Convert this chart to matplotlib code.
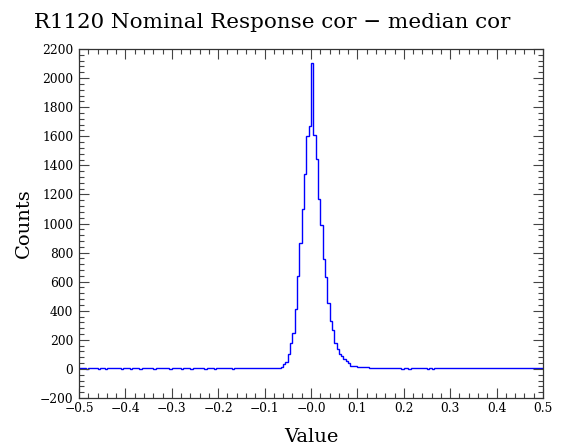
import numpy as np
import matplotlib.pyplot as plt

# histogram binning: 200 bins over [-0.5, 0.5)
bin_lo, bin_hi, n_bins = -0.5, 0.5, 200

# left tail, bins 0..81  (-0.5 .. -0.09)
left_tail = [3, 3, 3, 2, 3, 3, 7, 3, 2, 3, 3, 2, 3, 3, 7, 3, 7, 3, 2, 3,
             3, 3, 2, 3, 3, 3, 2, 3, 3, 3, 7, 3, 2, 3, 3, 3, 7, 3, 3, 2,
             7, 3, 7, 3, 0, 3, 3, 3, 0, 3, 6, 3, 3, 3, 0, 3, 3, 3, 0, 3,
             3, 3, 3, 3, 3, 3, 0, 3, 3, 3, 3, 3, 3, 3, 3, 3, 3, 3, 3, 3,
             3, 3]
# core, bins 82..128  (-0.09 .. 0.145)
core = [3, 7, 8, 3, 9, 16, 32, 45, 105, 177, 245, 415, 639, 864, 1100, 1340,
        1599, 1672, 2101, 1608, 1443, 1166, 990, 754, 634, 451, 330, 268, 177,
        136, 105, 92, 69, 52, 39, 23, 22, 18, 14, 12, 11, 10, 10, 9, 9, 8, 8]
# right tail, bins 129..199  (0.145 .. 0.5)
right_tail = [4, 4, 3, 3, 3, 3, 3, 3, 3, 3, 0, 3, 3, 0, 3, 3, 3, 3, 3, 3,
              3, 0, 3, 0, 6, 3, 3, 3, 6, 3, 6, 6, 3, 3, 3, 3, 3, 3, 3, 6,
              6, 3, 3, 3, 6, 3, 3, 3, 3, 3, 3, 3, 3, 6, 6, 6, 3, 3, 3, 3,
              3, 6, 3, 3, 3, 3, 3, 3, 3, 3, 3]

counts = np.array(left_tail + core + right_tail, dtype=float)
edges = np.linspace(bin_lo, bin_hi, n_bins + 1)

plt.rcParams['font.family'] = ['DejaVu Serif']

fig = plt.figure(figsize=(5.63, 4.46), dpi=100)
ax = fig.add_axes([0.1403, 0.1076, 0.8242, 0.7825])

ax.stairs(counts, edges, color=(0, 0, 1), lw=1.0)

ax.set_xlim(-0.5, 0.5)
ax.set_ylim(-200, 2200)
ax.set_xticks(np.arange(-0.5, 0.51, 0.1))
ax.set_xticks(np.arange(-0.5, 0.51, 0.02), minor=True)
ax.set_yticks(np.arange(-200, 2201, 200))
ax.set_yticks(np.arange(-200, 2201, 40), minor=True)
ax.set_xticklabels([f"{v:.1f}".replace("-", "\u2212") for v in np.arange(-0.5, 0.51, 0.1)])

ax.tick_params(which='both', direction='in', top=True, right=True,
               labelsize=8.8, color='#444444')
ax.tick_params(which='major', length=7.2, width=0.8, pad=3)
ax.tick_params(which='minor', length=3.6, width=0.8)
ax.tick_params(axis='y', pad=4)
for s in ax.spines.values():
    s.set_linewidth(0.9)
    s.set_color('#333333')

ax.set_xlabel("Value", fontsize=14, labelpad=9)
ax.set_ylabel("Counts", fontsize=14, labelpad=5)
fig.text(0.484, 1 - 22 / 446, "R1120 Nominal Response cor \u2212 median cor",
         ha='center', va='center', fontsize=15.4)

fig.savefig("out.png", dpi=100)
